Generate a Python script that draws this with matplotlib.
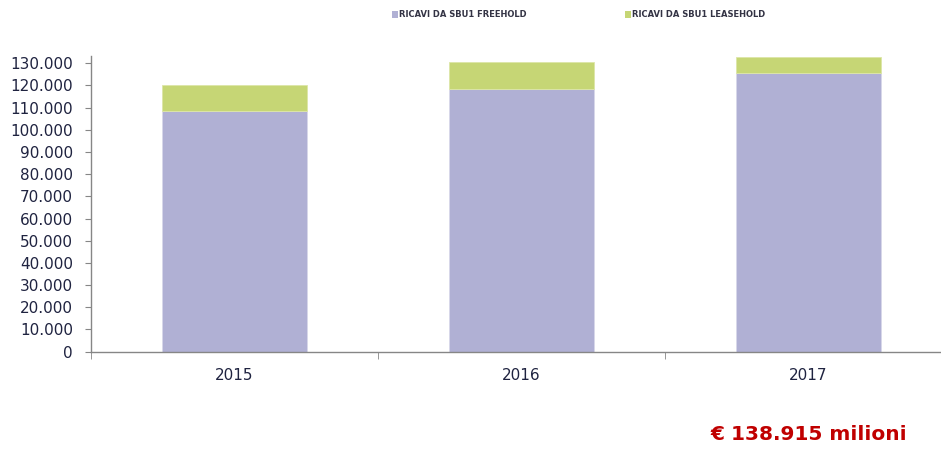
import matplotlib
matplotlib.use('Agg')
import matplotlib.pyplot as plt
import numpy as np

years = ['2015', '2016', '2017']
freehold = [108300, 118600, 125600]
leasehold = [12100, 12200, 7100]
yticks = list(range(0, 130001, 10000))
legend_labels = ['RICAVI DA SBU1 FREEHOLD', 'RICAVI DA SBU1 LEASEHOLD']
total_text = '€ 138.915 milioni'

purple = '#B0B0D4'
green = '#C6D675'
tick_color = '#1F2340'

fig = plt.figure(figsize=(9.41, 4.5), dpi=100)
# the category axis runs a little past the right edge, as in the source
ax = fig.add_axes([0.0967, 0.2185, 0.915, 0.6571])
ax.set_clip_on(False)

x = np.arange(len(years))
ax.bar(x, freehold, width=0.503, color=purple, edgecolor='#D8D8EA', linewidth=0.6)
ax.bar(x, leasehold, width=0.503, bottom=freehold, color=green, edgecolor='#DDE6A8', linewidth=0.6)

ax.set_xlim(-0.5, 2.5)
ax.set_ylim(0, 133300)
ax.set_yticks(yticks)
ax.set_yticklabels(['0' if v == 0 else f'{v // 1000}.000' for v in yticks],
                   fontsize=11, color=tick_color)
ax.set_xticks(x)
ax.set_xticklabels(years, fontsize=11, color=tick_color)
ax.tick_params(axis='x', length=0, pad=12)
ax.tick_params(axis='y', length=4.5, color='#868686', direction='out', pad=8.5)
ax.set_xticks([-0.5, 0.5, 1.5, 2.5], minor=True)
ax.tick_params(axis='x', which='minor', length=5, color='#868686', direction='out')

for s in ['top', 'right']:
    ax.spines[s].set_visible(False)
for s in ['left', 'bottom']:
    ax.spines[s].set_color('#868686')
    ax.spines[s].set_linewidth(1.0)

# legend drawn as small squares + text at the top
for xpos, lab, col in [(0.4165, legend_labels[0], purple), (0.664, legend_labels[1], green)]:
    fig.patches.append(plt.Rectangle((xpos, 0.96), 0.0068, 0.0145, transform=fig.transFigure,
                                     facecolor=col, edgecolor='none'))
    fig.text(xpos + 0.0078, 0.967, lab, fontsize=6, fontweight='bold', color='#333344',
             va='center', ha='left')

fig.text(0.964, 0.022, total_text, fontsize=14.5, fontweight='bold', color='#C00000',
         ha='right', va='baseline')

fig.savefig('out.png', dpi=100)
